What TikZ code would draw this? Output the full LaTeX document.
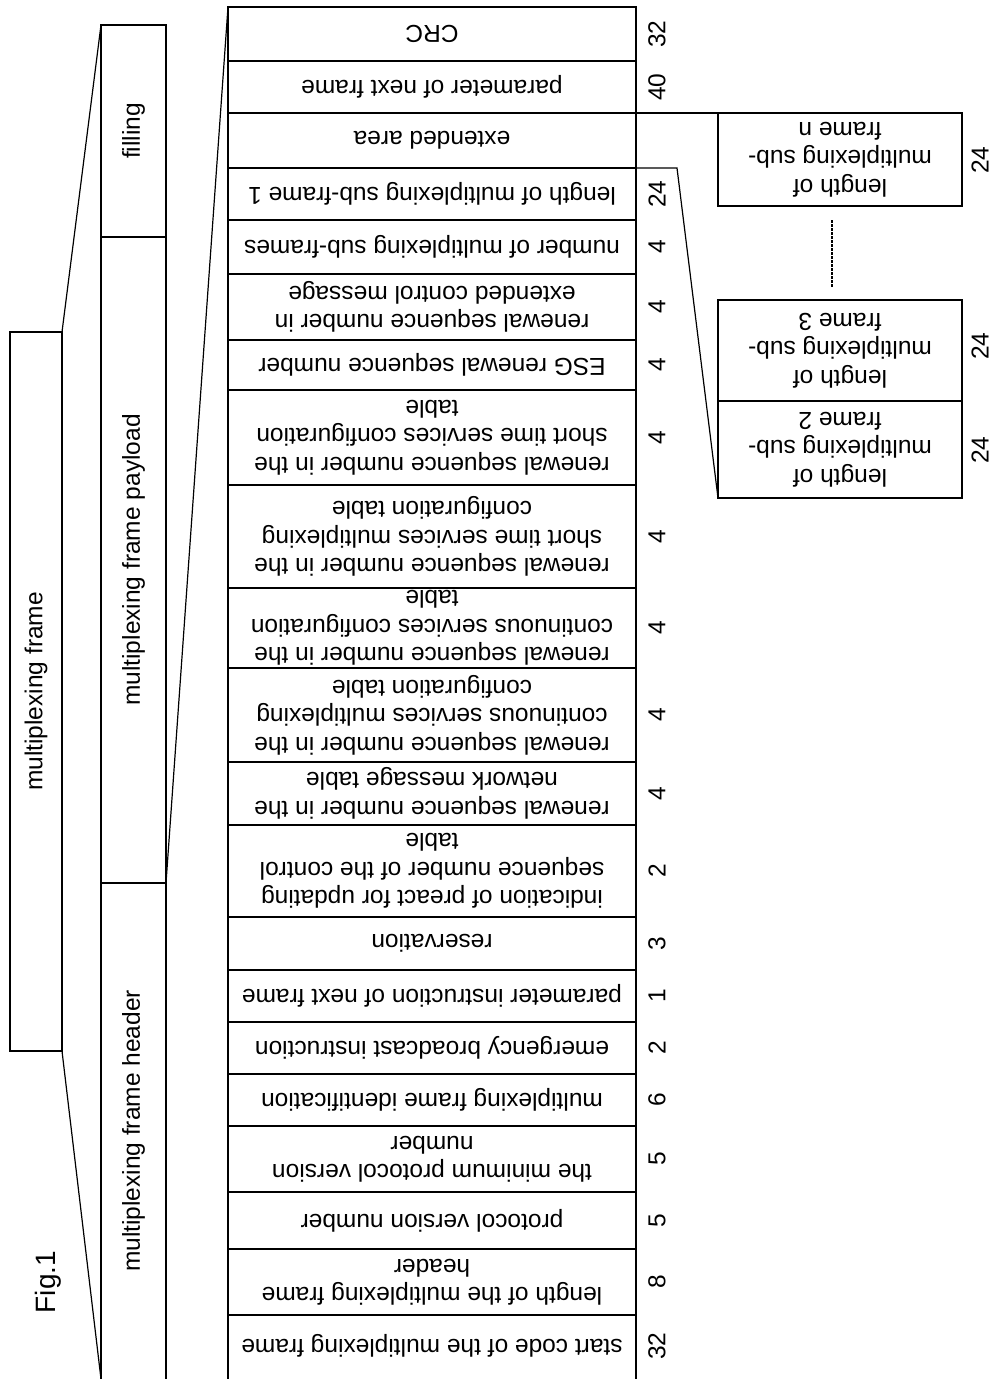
\documentclass[tikz,border=0pt]{standalone}
\usepackage{fontspec}
\setmainfont{Liberation Sans}
\newcommand\frow[5]{%
  \pgfmathsetmacro\rowh{#3-#2}%
  \pgfmathsetmacro\rowc{(#2+#3)/2}%
  \node[box, minimum width=408pt, minimum height=\rowh pt] (#1) at (228,#2) {};%
  \node[flip] (#1t) at (#1.center) {#4};%
  \node[up] (#1n) at (657,\rowc) {#5};%
}
\begin{document}
\begin{tikzpicture}[x=1pt,y=-1pt,
  box/.style={draw, line width=1.4pt, inner sep=0pt, outer sep=0pt, anchor=north west},
  lbl/.style={font=\fontsize{24.5}{28.5}\selectfont, align=center, inner sep=0pt},
  flip/.style={lbl, rotate=180},
  up/.style={lbl, rotate=90},
  link/.style={line width=1.2pt}]
\useasboundingbox (0,0) rectangle (992,1379);
% main column
\frow{r1}{7}{61}{CRC}{32}
\frow{r2}{61}{113}{parameter of next frame}{40}
\frow{r3}{113}{168}{extended area}{}
\frow{r4}{168}{220}{length of multiplexing sub-frame 1}{24}
\frow{r5}{220}{274}{number of multiplexing sub-frames}{4}
\frow{r6}{274}{340}{renewal sequence number in\\extended control message}{4}
\frow{r7}{340}{390}{ESG renewal sequence number}{4}
\frow{r8}{390}{485}{renewal sequence number in the\\short time services configuration\\table}{4}
\frow{r9}{485}{588}{renewal sequence number in the\\short time services multiplexing\\configuration table}{4}
\frow{r10}{588}{668}{renewal sequence number in the\\continuous services configuration\\table}{4}
\frow{r11}{668}{762}{renewal sequence number in the\\continuous services multiplexing\\configuration table}{4}
\frow{r12}{762}{825}{renewal sequence number in the\\network message table}{4}
\frow{r13}{825}{917}{indication of preact for updating\\sequence number of the control\\table}{2}
\frow{r14}{917}{970}{reservation}{3}
\frow{r15}{970}{1022}{parameter instruction of next frame}{1}
\frow{r16}{1022}{1074}{emergency broadcast instruction}{2}
\frow{r17}{1074}{1126}{multiplexing frame identification}{6}
\frow{r18}{1126}{1192}{the minimum protocol version\\number}{5}
\frow{r19}{1192}{1249}{protocol version number}{5}
\frow{r20}{1249}{1315}{length of the multiplexing frame\\header}{8}
\node[box, minimum width=408pt, minimum height=75pt] (r21) at (228,1315) {};
\node[flip] (r21t) at (432,1346) {start code of the multiplexing frame};
\node[up] (r21n) at (657,1346) {32};
% side column
\node[box, minimum width=65pt, minimum height=212pt] (fill) at (101,25) {};
\node[up] (fillt) at (fill.center) {filling};
\node[box, minimum width=65pt, minimum height=646pt] (pay) at (101,237) {};
\node[up] (payt) at (pay.center) {multiplexing frame payload};
\node[box, minimum width=65pt, minimum height=507pt] (head) at (101,883) {};
\node[up] (headt) at (133.5,1131) {multiplexing frame header};
% outer box
\node[box, minimum width=52pt, minimum height=719pt] (mf) at (10,332) {};
\node[up] (mft) at (mf.center) {multiplexing frame};
\node[up, font=\fontsize{28}{32}\selectfont] (fig) at (48,1282) {Fig.1};
% expansion lines
\coordinate (hb) at (101,1379);
\draw[link] (mf.north east) -- (fill.north west);
\draw[link] (mf.south east) -- (hb);
\draw[link] (pay.south east) -- (r1.north west);
% sub-frame boxes
\node[box, minimum width=244pt, minimum height=93pt] (sn) at (718,113) {};
\node[flip] (snt) at (sn.center) {length of\\multiplexing sub-\\frame n};
\node[box, minimum width=244pt, minimum height=101pt] (s3) at (718,300) {};
\node[flip] (s3t) at (s3.center) {length of\\multiplexing sub-\\frame 3};
\node[box, minimum width=244pt, minimum height=97pt] (s2) at (718,401) {};
\node[flip] (s2t) at (s2.center) {length of\\multiplexing sub-\\frame 2};
\node[up] (snn) at (980,160) {24};
\node[up] (s3n) at (980,346) {24};
\node[up] (s2n) at (980,450) {24};
\draw[link] (r3.north east) -- (sn.north west);
\coordinate (bend) at (677,168);
\draw[link] (r4.north east) -- (bend) -- (s2.south west);
\coordinate (d1) at (832,220);
\coordinate (d2) at (832,287);
\draw[line width=1.5pt, dash pattern=on 2.5pt off 1.5pt] (d1) -- (d2);
\end{tikzpicture}
\end{document}
